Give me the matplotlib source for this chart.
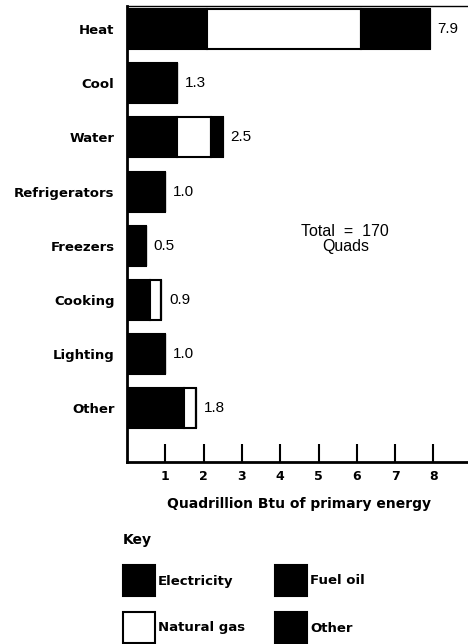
import matplotlib
matplotlib.use("Agg")
import matplotlib.pyplot as plt
from matplotlib.patches import Rectangle

plt.rcParams["font.family"] = ["Liberation Sans", "DejaVu Sans"]
BOLD = "DejaVu Sans"

categories = ["Heat", "Cool", "Water", "Refrigerators", "Freezers", "Cooking", "Lighting", "Other"]
electricity = [2.1, 1.3, 1.3, 1.0, 0.5, 0.6, 1.0, 1.5]
natural_gas = [4.0, 0.0, 0.9, 0.0, 0.0, 0.3, 0.0, 0.3]
fuel_oil = [1.8, 0.0, 0.3, 0.0, 0.0, 0.0, 0.0, 0.0]
other = [0.0, 0.0, 0.0, 0.0, 0.0, 0.0, 0.0, 0.0]
totals = [7.9, 1.3, 2.5, 1.0, 0.5, 0.9, 1.0, 1.8]
x_ticks = [1, 2, 3, 4, 5, 6, 7, 8, 9]

W, H = 468, 644
fig = plt.figure(figsize=(W / 100, H / 100), dpi=100)

def px(x0, y0, x1, y1):
    # pixel box (top-left origin) -> figure fraction [l, b, w, h]
    return [x0 / W, 1 - y1 / H, (x1 - x0) / W, (y1 - y0) / H]

ax = fig.add_axes(px(127, 6, 127 + 9 * 38.3, 462))

series = [
    (electricity, "black"),
    (natural_gas, "white"),
    (fuel_oil, "black"),
    (other, "black"),
]
y = list(range(len(categories)))
left = [0.0] * len(categories)
for vals, col in series:
    ax.barh(y, vals, left=left, height=0.74, color=col, edgecolor="black", linewidth=1.5)
    left = [a + b for a, b in zip(left, vals)]

for i, t in enumerate(totals):
    ax.text(t + 0.2, i, f"{t:.1f}", va="center", ha="left", fontsize=11)

ax.set_xlim(0, 9)
ax.set_ylim(8.0, -0.43)
ax.set_yticks(y)
ax.set_yticklabels(categories, fontsize=9.5, fontweight="bold", family=BOLD)
ax.tick_params(axis="y", length=0, pad=9)
ax.set_xticks(x_ticks)
ax.set_xticklabels([str(v) for v in x_ticks], fontsize=9, fontweight="bold", family=BOLD)
ax.tick_params(axis="x", direction="in", length=13, width=1.5, pad=6)
ax.set_xlabel("Quadrillion Btu of primary energy", fontsize=10, fontweight="bold",
              family=BOLD, labelpad=10)

ax.spines["right"].set_visible(False)
ax.spines["left"].set_linewidth(2)
ax.spines["bottom"].set_linewidth(2)
ax.spines["top"].set_linewidth(1)

ax.text(5.7, 3.88, "Total  =  170\nQuads", ha="center", va="center", fontsize=11.5, linespacing=1.0)

# key
fig.text(123 / W, 1 - 540 / H, "Key", fontsize=10, fontweight="bold", family=BOLD,
         va="center", ha="left")
key = [
    ("Electricity", "black", 123, 565),
    ("Fuel oil", "black", 275, 565),
    ("Natural gas", "white", 123, 612),
    ("Other", "black", 275, 612),
]
for label, col, kx, ky in key:
    fig.patches.append(Rectangle((kx / W, 1 - (ky + 31) / H), 32 / W, 31 / H,
                                 transform=fig.transFigure, facecolor=col,
                                 edgecolor="black", linewidth=1.5))
    fig.text((kx + 35) / W, 1 - (ky + 16) / H, label, fontsize=9.5,
             fontweight="bold", family=BOLD, va="center", ha="left")

fig.savefig("out.png", dpi=100)
